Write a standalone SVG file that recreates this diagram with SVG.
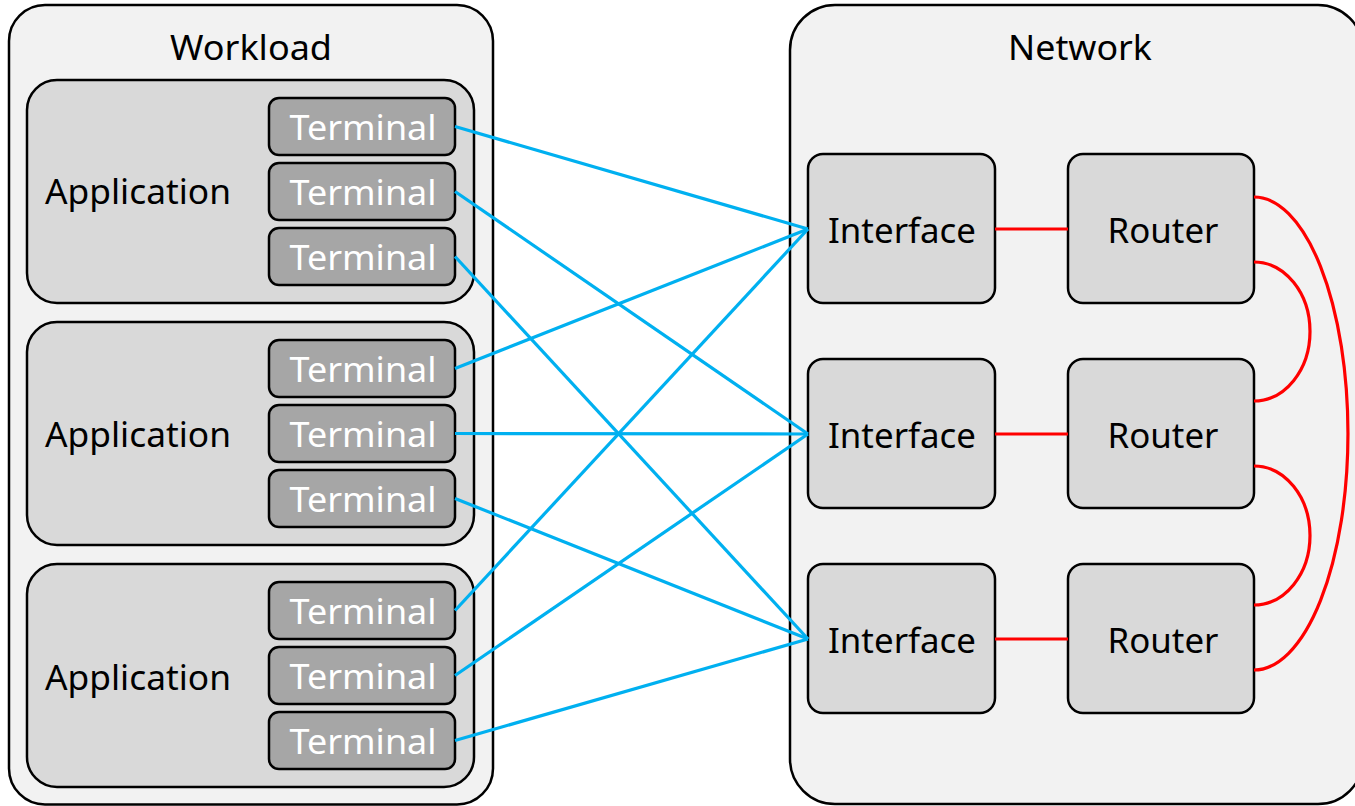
<svg xmlns="http://www.w3.org/2000/svg" width="1355" height="806" viewBox="0 0 1355 806">
<style>
text{font-family:"Noto Sans","Open Sans","Liberation Sans",sans-serif;font-size:34px;text-anchor:middle;fill:#000;stroke:none}
.cont{fill:#f2f2f2;stroke:#000;stroke-width:2.5}
.app{fill:#d9d9d9;stroke:#000;stroke-width:2.5}
.term{fill:#a6a6a6;stroke:#000;stroke-width:2.5}
text.tt{fill:#fff}
.box{fill:#d9d9d9;stroke:#000;stroke-width:2.5}
.blue{stroke:#00b0f0;stroke-width:3.2;fill:none}
.red{stroke:#ff0000;stroke-width:3.2;fill:none}
</style>
<rect width="1355" height="806" fill="#fff"/>
<g id="workload">
<rect class="cont" x="9" y="5" width="484" height="799.5" rx="36"/>
<text x="251" y="60" textLength="162" lengthAdjust="spacingAndGlyphs">Workload</text>
</g>
<g id="network">
<rect class="cont" x="790" y="5" width="573" height="799" rx="45"/>
<text x="1080" y="60" textLength="144" lengthAdjust="spacingAndGlyphs">Network</text>
</g>
<g id="app1"><rect class="app" x="27" y="80" width="447" height="223" rx="30"/><text x="138" y="204" textLength="186" lengthAdjust="spacingAndGlyphs">Application</text></g>
<g id="app2"><rect class="app" x="27" y="322" width="447" height="223" rx="30"/><text x="138" y="447" textLength="186" lengthAdjust="spacingAndGlyphs">Application</text></g>
<g id="app3"><rect class="app" x="27" y="564" width="447" height="223" rx="30"/><text x="138" y="690" textLength="186" lengthAdjust="spacingAndGlyphs">Application</text></g>
<g id="t1"><rect class="term" x="269" y="98" width="186" height="57" rx="10"/><text class="tt" x="363" y="140" textLength="147" lengthAdjust="spacingAndGlyphs">Terminal</text></g>
<g id="t2"><rect class="term" x="269" y="163" width="186" height="57" rx="10"/><text class="tt" x="363" y="205" textLength="147" lengthAdjust="spacingAndGlyphs">Terminal</text></g>
<g id="t3"><rect class="term" x="269" y="228" width="186" height="57" rx="10"/><text class="tt" x="363" y="270" textLength="147" lengthAdjust="spacingAndGlyphs">Terminal</text></g>
<g id="t4"><rect class="term" x="269" y="340" width="186" height="57" rx="10"/><text class="tt" x="363" y="382" textLength="147" lengthAdjust="spacingAndGlyphs">Terminal</text></g>
<g id="t5"><rect class="term" x="269" y="405" width="186" height="57" rx="10"/><text class="tt" x="363" y="447" textLength="147" lengthAdjust="spacingAndGlyphs">Terminal</text></g>
<g id="t6"><rect class="term" x="269" y="470" width="186" height="57" rx="10"/><text class="tt" x="363" y="512" textLength="147" lengthAdjust="spacingAndGlyphs">Terminal</text></g>
<g id="t7"><rect class="term" x="269" y="582" width="186" height="57" rx="10"/><text class="tt" x="363" y="624" textLength="147" lengthAdjust="spacingAndGlyphs">Terminal</text></g>
<g id="t8"><rect class="term" x="269" y="647" width="186" height="57" rx="10"/><text class="tt" x="363" y="689" textLength="147" lengthAdjust="spacingAndGlyphs">Terminal</text></g>
<g id="t9"><rect class="term" x="269" y="712" width="186" height="57" rx="10"/><text class="tt" x="363" y="754" textLength="147" lengthAdjust="spacingAndGlyphs">Terminal</text></g>
<g id="if1"><rect class="box" x="808" y="154" width="187" height="149" rx="15"/><text x="902" y="243" textLength="148" lengthAdjust="spacingAndGlyphs">Interface</text></g>
<g id="if2"><rect class="box" x="808" y="359" width="187" height="149" rx="15"/><text x="902" y="448" textLength="148" lengthAdjust="spacingAndGlyphs">Interface</text></g>
<g id="if3"><rect class="box" x="808" y="564" width="187" height="149" rx="15"/><text x="902" y="653" textLength="148" lengthAdjust="spacingAndGlyphs">Interface</text></g>
<g id="r1"><rect class="box" x="1068" y="154" width="186" height="149" rx="15"/><text x="1163" y="243" textLength="111" lengthAdjust="spacingAndGlyphs">Router</text></g>
<g id="r2"><rect class="box" x="1068" y="359" width="186" height="149" rx="15"/><text x="1163" y="448" textLength="111" lengthAdjust="spacingAndGlyphs">Router</text></g>
<g id="r3"><rect class="box" x="1068" y="564" width="186" height="149" rx="15"/><text x="1163" y="653" textLength="111" lengthAdjust="spacingAndGlyphs">Router</text></g>
<g id="connectors">
<path class="blue" d="M455,126.5 L808,229"/>
<path class="blue" d="M455,191.5 L808,434"/>
<path class="blue" d="M455,256.5 L808,639"/>
<path class="blue" d="M455,368.5 L808,229"/>
<path class="blue" d="M455,433.5 L808,434"/>
<path class="blue" d="M455,498.5 L808,639"/>
<path class="blue" d="M455,610.5 L808,229"/>
<path class="blue" d="M455,675.5 L808,434"/>
<path class="blue" d="M455,740.5 L808,639"/>
<path class="red" d="M995,229 H1068"/>
<path class="red" d="M995,434 H1068"/>
<path class="red" d="M995,639 H1068"/>
<path class="red" d="M1254,262 A56 69.5 0 0 1 1254,401"/>
<path class="red" d="M1254,466 A56 69.5 0 0 1 1254,605"/>
<path class="red" d="M1254,197 A94 236.5 0 0 1 1254,670"/>
</g>
</svg>
